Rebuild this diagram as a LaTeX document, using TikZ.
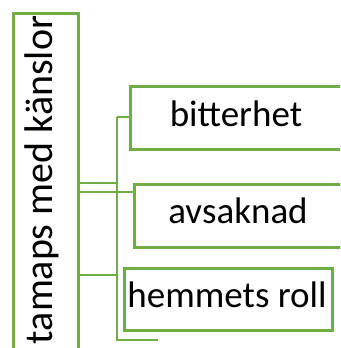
\documentclass[tikz,border=0pt]{standalone}
\usepackage{fontspec}
\setmainfont{Carlito}
\definecolor{gr}{HTML}{70AD47}
\begin{document}
\begin{tikzpicture}[x=1pt,y=-1pt,
  box/.style={draw=gr, line width=3pt, fill=white, inner sep=0pt, anchor=north west},
  conn/.style={draw=gr, line width=1.6pt},
  lbl/.style={font=\fontsize{37}{40}\selectfont, text=black}]
\useasboundingbox (0,0) rectangle (340,348);
\clip (0,0) rectangle (340,348);
% main vertical box
\node[box, minimum width=65pt, minimum height=360pt] (main) at (11.5,11.5) {};
\node[lbl, rotate=90, font=\fontsize{40}{44}\selectfont] (maintxt) at (42,180) {tamaps med känslor};
% child boxes
\node[box, minimum width=230pt, minimum height=63pt] (bit) at (128.5,84.5) {};
\node[lbl] (bittxt) at (236,114) {bitterhet};
\node[box, minimum width=230pt, minimum height=63pt] (avs) at (132.5,182.5) {};
\node[lbl] (avstxt) at (238,211) {avsaknad};
\node[box, minimum width=208pt, minimum height=62pt] (hem) at (122.5,266.5) {};
\node[lbl] (hemtxt) at (227,295) {hemmets roll};
% connectors
\coordinate (jtop) at (117,117);
\coordinate (jmain) at (117,183);
\coordinate (jhem) at (117,275);
\coordinate (jbot) at (117,340);
\coordinate (endb) at (158,340);
\draw[conn] (main.east |- jmain) -- (jmain);
\draw[conn] (jtop) -- (jbot) -- (endb);
\draw[conn] (jtop) -- (bit.west |- jtop);
\draw[conn] (main.east |- 0,192) -- (avs.west |- 0,192);
\draw[conn] (main.east |- jhem) -- (jhem);
\end{tikzpicture}
\end{document}
